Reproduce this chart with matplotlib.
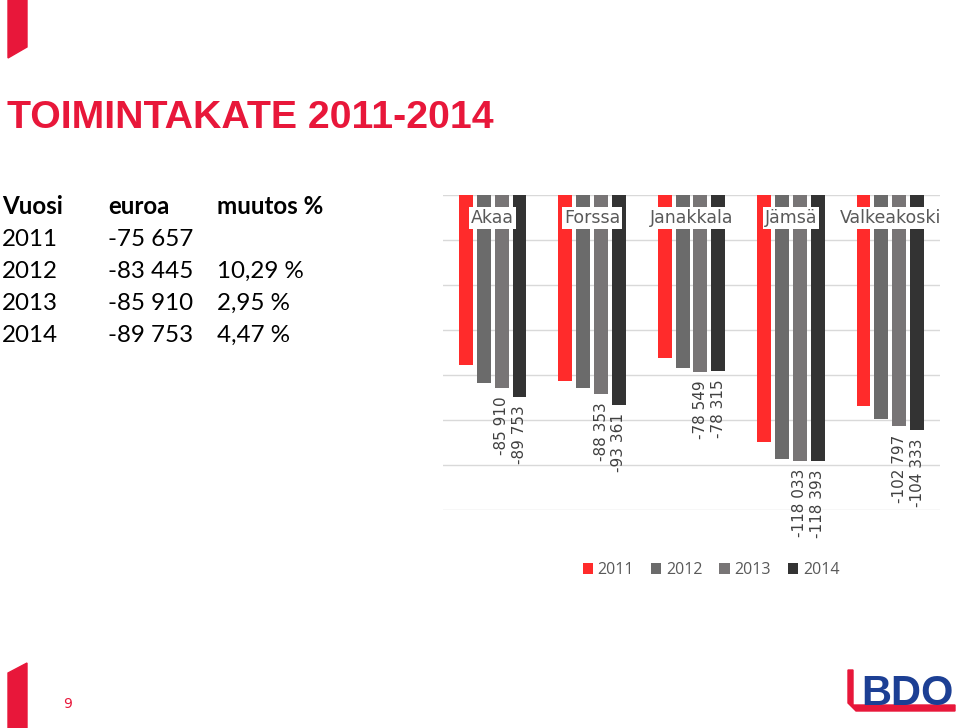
import numpy as np
import matplotlib
matplotlib.use("Agg")
import matplotlib.pyplot as plt
from matplotlib.patches import Polygon, Patch

# data
kunnat = ["Akaa", "Forssa", "Janakkala", "Jämsä", "Valkeakoski"]
vuodet = ["2011", "2012", "2013", "2014"]
v2011 = [-75657, -82500, -72600, -109600, -93800]
v2012 = [-83445, -85600, -77000, -117500, -99700]
v2013 = [-85910, -88353, -78549, -118033, -102797]
v2014 = [-89753, -93361, -78315, -118393, -104333]
varit = ["#FF2B2B", "#6B6B6B", "#787576", "#333333"]

taulu_otsikot = ["Vuosi", "euroa", "muutos %"]
taulu_vuodet = ["2011", "2012", "2013", "2014"]
taulu_euroa = ["-75 657", "-83 445", "-85 910", "-89 753"]
taulu_muutos = ["", "10,29 %", "2,95 %", "4,47 %"]

W, H = 960, 728
fig = plt.figure(figsize=(W / 100, H / 100), dpi=100)
fig.patch.set_facecolor("white")

# background layer in pixel coords for the slide decoration
bg = fig.add_axes([0, 0, 1, 1])
bg.set_xlim(0, W)
bg.set_ylim(H, 0)
bg.axis("off")
red = "#E8173A"
bg.add_patch(Polygon([(8, 0), (27, 0), (27, 47), (8, 58)], closed=True, color=red))
bg.add_patch(Polygon([(8, 673), (27, 663), (27, 728), (8, 728)], closed=True, color=red))
# BDO logo
bg.add_patch(Polygon([(848, 670), (853, 670), (853, 705), (955, 705), (955, 711),
                      (856, 711), (848, 703)], closed=True, color=red))
bg.text(907, 705, "BDO", color="#1C3F94", fontsize=30, fontweight="bold",
        family="Liberation Sans", ha="center", va="baseline")
bg.text(68, 708, "9", color=red, fontsize=10, ha="center", va="baseline")

# title
bg.text(7, 128, "TOIMINTAKATE 2011-2014", color=red, fontsize=28.3,
        fontweight="bold", family="Liberation Sans", va="baseline", ha="left")

# table
fs = 17.4
cols = [2, 108, 217]
for x, t in zip(cols, taulu_otsikot):
    bg.text(x, 214, t, fontsize=fs, fontweight="bold", family="Lato",
            va="baseline", ha="left", color="black")
for i in range(4):
    y = 246 + 32 * i
    bg.text(cols[0], y, taulu_vuodet[i], fontsize=fs, family="Lato", va="baseline")
    bg.text(cols[1], y, taulu_euroa[i], fontsize=fs, family="Lato", va="baseline")
    bg.text(cols[2], y, taulu_muutos[i], fontsize=fs, family="Lato", va="baseline")

# chart
left, right, top, bottom = 443, 940, 195, 510
ax = fig.add_axes([left / W, 1 - bottom / H, (right - left) / W, (bottom - top) / H])
ax.set_xlim(-0.5, 4.5)
ax.set_ylim(-140000, 0)
ax.set_yticks(np.arange(-140000, 1, 20000))
ax.yaxis.grid(True, color="#D9D9D9", linewidth=1)
ax.set_axisbelow(True)
for s in ax.spines.values():
    s.set_visible(False)
ax.tick_params(left=False, bottom=False, labelleft=False, labelbottom=False)

x = np.arange(len(kunnat))
sarjat = [v2011, v2012, v2013, v2014]
bw, step = 0.14, 0.18
for i, (vals, c) in enumerate(zip(sarjat, varit)):
    xs = x + (i - 1.5) * step
    ax.bar(xs, vals, width=bw, color=c, zorder=2)
    if i >= 2:
        for xx, v in zip(xs, vals):
            ax.annotate(f"{v:,}".replace(",", " "), (xx, v), xytext=(0, -6),
                        textcoords="offset points", rotation=90, ha="center",
                        va="top", fontsize=11, color="#404040", annotation_clip=False)

for xx, k in zip(x, kunnat):
    ax.text(xx, 0.927, k, transform=ax.get_xaxis_transform(), ha="center", va="center",
            fontsize=12.5, color="#595959", zorder=5,
            bbox=dict(facecolor="white", edgecolor="none", pad=1.5))

handles = [Patch(facecolor=c, edgecolor="none") for c in varit]
fig.legend(handles, vuodet, loc="center", bbox_to_anchor=(711 / W, 1 - 570 / H), ncol=4,
           frameon=False, prop={"family": "Open Sans", "size": 11.5},
           handlelength=0.63, handleheight=0.63, handletextpad=0.31,
           columnspacing=1.06, labelcolor="#595959")

fig.savefig("out.png", dpi=100)
